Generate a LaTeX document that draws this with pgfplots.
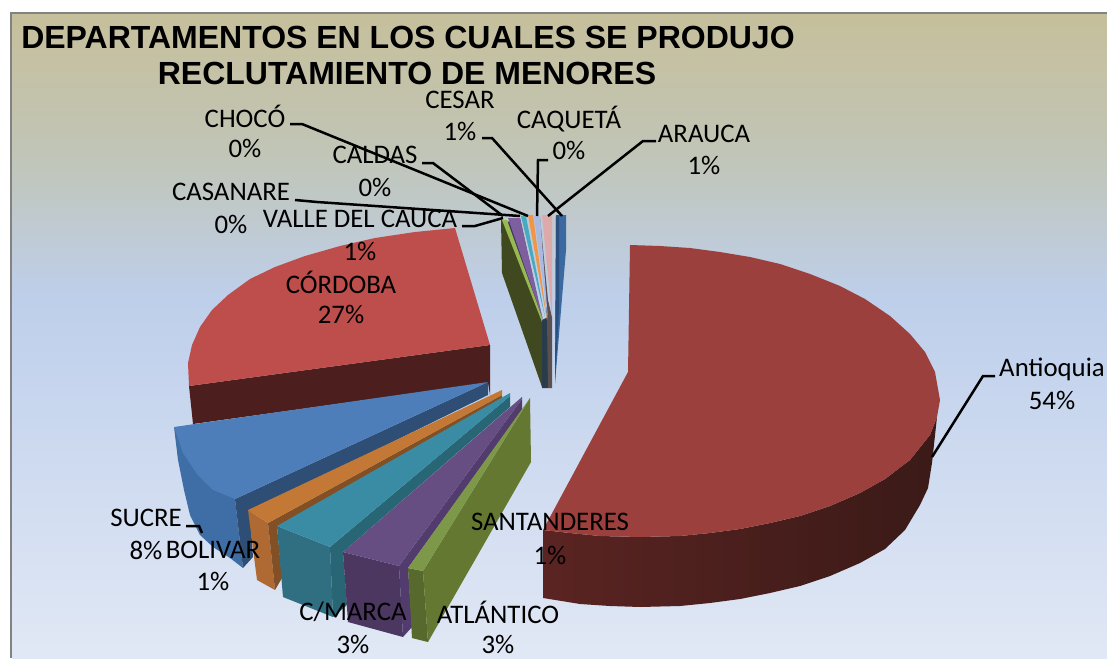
\documentclass[border=0pt]{standalone}
\usepackage{pgfplots}
\usepackage{fontspec}
\setmainfont{Carlito}
\newfontfamily\titlefont{Liberation Sans}
\pgfplotsset{compat=1.18}
\definecolor{bgA}{RGB}{198,191,155}
\definecolor{bgB}{RGB}{193,197,182}
\definecolor{bgC}{RGB}{190,207,235}
\definecolor{bgD}{RGB}{225,232,245}
\definecolor{antTop}{RGB}{155,64,60}
\definecolor{antSideA}{RGB}{90,36,34}
\definecolor{antSideB}{RGB}{58,26,23}
\definecolor{corTop}{RGB}{190,78,75}
\definecolor{corSide}{RGB}{76,30,30}
\definecolor{sucTop}{RGB}{78,126,186}
\definecolor{sucIn}{RGB}{46,78,118}
\definecolor{sucOut}{RGB}{62,110,165}
\definecolor{bolTop}{RGB}{196,120,54}
\definecolor{bolIn}{RGB}{130,80,36}
\definecolor{bolOut}{RGB}{175,105,50}
\definecolor{cunTop}{RGB}{58,140,165}
\definecolor{cunIn}{RGB}{40,102,118}
\definecolor{cunOut}{RGB}{48,110,130}
\definecolor{atlTop}{RGB}{103,78,130}
\definecolor{atlIn}{RGB}{82,60,110}
\definecolor{atlOut}{RGB}{76,55,96}
\definecolor{sanTop}{RGB}{125,152,72}
\definecolor{sanIn}{RGB}{100,120,50}
\definecolor{sanOut}{RGB}{88,105,45}
\definecolor{olive}{RGB}{64,72,32}
\definecolor{lgreen}{RGB}{150,185,80}
\definecolor{lpurple}{RGB}{125,95,160}
\definecolor{lteal}{RGB}{70,170,195}
\definecolor{lorange}{RGB}{240,150,70}
\definecolor{lblue}{RGB}{170,185,225}
\definecolor{lpink}{RGB}{220,170,170}
\definecolor{arauca}{RGB}{60,105,160}
\definecolor{arauca2}{RGB}{42,80,128}

\begin{document}
\begin{tikzpicture}
\begin{axis}[
    scale only axis,
    width=1107pt,
    height=658pt,
    xmin=0, xmax=1107,
    ymin=0, ymax=658,
    y dir=reverse,
    hide axis,
    clip=true,
]
% background panel
\addplot[draw=none,fill=white] coordinates {(0,0) (1107,0) (1107,658) (0,658)} -- cycle;
\addplot[draw=none,top color=bgA,bottom color=bgB] coordinates {(12,14) (1107,14) (1107,150) (12,150)} -- cycle;
\addplot[draw=none,top color=bgB,bottom color=bgC] coordinates {(12,150) (1107,150) (1107,300) (12,300)} -- cycle;
\addplot[draw=none,top color=bgC,bottom color=bgD] coordinates {(12,300) (1107,300) (1107,658) (12,658)} -- cycle;
\addplot[draw={rgb,255:red,130;green,130;blue,130},line width=2pt] coordinates {(11,658) (11,13) (1107,13)};

% Antioquia
\addplot[draw=none,left color=antSideA,right color=antSideB] coordinates {
    (543,530) (570,533) (600,536) (640,537) (680,536) (710,533) (740,529) (770,523) (800,516) (830,506) (860,493) (885,479) (910,460) (930,435) (937,417)
    (932,463) (928,488) (920,505) (905,530) (885,549) (860,563) (830,576) (800,586) (770,593) (740,599) (710,603) (680,606) (640,607) (610,606) (580,604) (543,598)} -- cycle;
\addplot[draw=none,fill=antTop] coordinates {
    (628,372) (630,245) (660,246) (690,248) (720,252) (750,257) (780,264) (810,274) (840,286) (865,299) (890,316) (910,334) (925,352) (935,372)
    (940,400) (937,417) (930,435) (910,460) (885,479) (860,493) (830,506) (800,516) (770,523) (740,529) (710,533) (680,536) (640,537)
    (600,536) (570,533) (543,530)} -- cycle;

% Cordoba
\addplot[draw=none,fill=corSide] coordinates {(189,386) (490,345) (490,395) (488,383) (193,424)} -- cycle;
\addplot[draw=none,fill=corTop] coordinates {
    (455,228) (490,345) (189,386) (188,363) (192,345) (200,327) (212,310) (228,295) (250,279) (275,267) (305,256) (340,246) (375,238) (415,232)} -- cycle;

% Sucre
\addplot[draw=none,fill=sucOut] coordinates {
    (174,427) (235,499) (243,568) (230,558) (213,547) (200,535) (190,515) (184,490) (178,460)} -- cycle;
\addplot[draw=none,fill=sucIn] coordinates {
    (235,499) (488,382) (488,395) (250,512) (253,557) (243,568)} -- cycle;
\addplot[draw=none,fill=sucTop] coordinates {
    (174,427) (488,382) (235,499) (213,490) (197,474) (183,453)} -- cycle;

% Bolivar
\addplot[draw=none,fill=bolOut] coordinates {(248,510) (268,523) (275,590) (257,580)} -- cycle;
\addplot[draw=none,fill=bolIn] coordinates {(268,523) (502,395) (502,401) (277,527) (282,578) (275,590)} -- cycle;
\addplot[draw=none,fill=bolTop] coordinates {(248,510) (502,390) (502,395) (268,523)} -- cycle;

% C/Marca
\addplot[draw=none,fill=cunOut] coordinates {(277,526) (330,547) (333,617) (283,597)} -- cycle;
\addplot[draw=none,fill=cunIn] coordinates {(330,547) (510,396) (510,407) (343,552) (347,605) (333,617)} -- cycle;
\addplot[draw=none,fill=cunTop] coordinates {(277,526) (510,393) (510,396) (330,547)} -- cycle;

% Atlantico
\addplot[draw=none,fill=atlOut] coordinates {(343,552) (399,566) (403,637) (348,622)} -- cycle;
\addplot[draw=none,fill=atlIn] coordinates {(399,566) (522,399) (522,410) (408,568) (412,627) (403,637)} -- cycle;
\addplot[draw=none,fill=atlTop] coordinates {(343,552) (522,397) (522,399) (399,566)} -- cycle;

% Santanderes
\addplot[draw=none,fill=sanOut] coordinates {(408,568) (423,571) (428,642) (412,638)} -- cycle;
\addplot[draw=none,fill=sanIn] coordinates {(423,571) (530,398) (531,462) (428,642)} -- cycle;
\addplot[draw=none,fill=sanTop] coordinates {(408,568) (530,398) (423,571)} -- cycle;

% small slices behind
\addplot[draw=none,fill=olive] coordinates {(501,220) (502,273) (542,387) (543,323) (507,222)} -- cycle;
\addplot[draw=none,fill={rgb,255:red,40;green,60;blue,75}] coordinates {(542,320) (548,317) (548,388) (542,388)} -- cycle;
\addplot[draw=none,fill={rgb,255:red,90;green,80;blue,80}] coordinates {(540,218) (548,300) (552,317) (552,388) (548,388) (547,320)} -- cycle;
\addplot[draw=none,fill={rgb,255:red,70;green,50;blue,95}] coordinates {(507,222) (520,218) (543,323)} -- cycle;
\addplot[draw=none,fill=lgreen] coordinates {(502,220) (507,220) (542,317) (542,322)} -- cycle;
\addplot[draw=none,fill=lpurple] coordinates {(508,218) (520,218) (543,320)} -- cycle;
\addplot[draw=none,fill=lteal] coordinates {(521,216) (526,216) (545,317)} -- cycle;
\addplot[draw=none,fill=lorange] coordinates {(528,215) (533,215) (547,320)} -- cycle;
\addplot[draw=none,fill=lblue] coordinates {(534,216) (540,216) (548,320)} -- cycle;
\addplot[draw=none,fill=lpink] coordinates {(542,215) (552,215) (552,317)} -- cycle;
\addplot[draw=none,fill=arauca] coordinates {(556,215) (566,215) (566,250) (555,383)} -- cycle;
\addplot[draw=none,fill=arauca2] coordinates {(556,215) (559,215) (559,310) (555,383)} -- cycle;

% leader lines
\addplot[black,line width=2.5pt] coordinates {(290,124) (302,124) (528,216)};
\addplot[black,line width=2.5pt] coordinates {(422,163) (433,163) (503,216)};
\addplot[black,line width=2.5pt] coordinates {(295,200) (317,202) (520,216)};
\addplot[black,line width=2.5pt] coordinates {(462,226) (475,226) (503,218)};
\addplot[black,line width=2.5pt] coordinates {(482,138) (492,138) (562,216)};
\addplot[black,line width=2.5pt] coordinates {(548,160) (538,160) (537,216)};
\addplot[black,line width=2.5pt] coordinates {(656,141) (643,141) (548,216)};
\addplot[black,line width=2.5pt] coordinates {(995,376) (983,376) (932,457)};
\addplot[black,line width=2.5pt] coordinates {(186,526) (199,526) (202,533)};

% title
\node[font=\titlefont\bfseries\fontsize{32}{36}\selectfont,text=black,anchor=center,inner sep=0pt] at (axis cs:408,37) {DEPARTAMENTOS EN LOS CUALES SE PRODUJO};
\node[font=\titlefont\bfseries\fontsize{32}{36}\selectfont,text=black,anchor=center,inner sep=0pt] at (axis cs:407,73) {RECLUTAMIENTO DE MENORES};

% data labels
\tikzset{lab/.style={font=\fontsize{26.8}{30}\selectfont,text=black,anchor=center,inner sep=0pt}}
\node[lab] at (axis cs:460,100) {CESAR};
\node[lab] at (axis cs:460,131) {1\%};
\node[lab] at (axis cs:569,119) {CAQUETÁ};
\node[lab] at (axis cs:569,150) {0\%};
\node[lab] at (axis cs:704,134) {ARAUCA};
\node[lab] at (axis cs:704,165) {1\%};
\node[lab] at (axis cs:245,116) {CHOCÓ};
\node[lab] at (axis cs:245,148) {0\%};
\node[lab] at (axis cs:375,155) {CALDAS};
\node[lab] at (axis cs:375,187) {0\%};
\node[lab] at (axis cs:231,192) {CASANARE};
\node[lab] at (axis cs:231,224) {0\%};
\node[lab] at (axis cs:360,219) {VALLE DEL CAUCA};
\node[lab] at (axis cs:360,251) {1\%};
\node[lab] at (axis cs:341,282) {CÓRDOBA};
\node[lab] at (axis cs:341,314) {27\%};
\node[lab] at (axis cs:1052,369) {Antioquia};
\node[lab] at (axis cs:1052,400) {54\%};
\node[lab] at (axis cs:146,518) {SUCRE};
\node[lab] at (axis cs:146,550) {8\%};
\node[lab] at (axis cs:213,550) {BOLIVAR};
\node[lab] at (axis cs:213,581) {1\%};
\node[lab] at (axis cs:550,522) {SANTANDERES};
\node[lab] at (axis cs:550,555) {1\%};
\node[lab] at (axis cs:353,612) {C/MARCA};
\node[lab] at (axis cs:353,644) {3\%};
\node[lab] at (axis cs:498,612) {ATLÁNTICO};
\node[lab] at (axis cs:498,644) {3\%};
\end{axis}
\end{tikzpicture}
\end{document}
